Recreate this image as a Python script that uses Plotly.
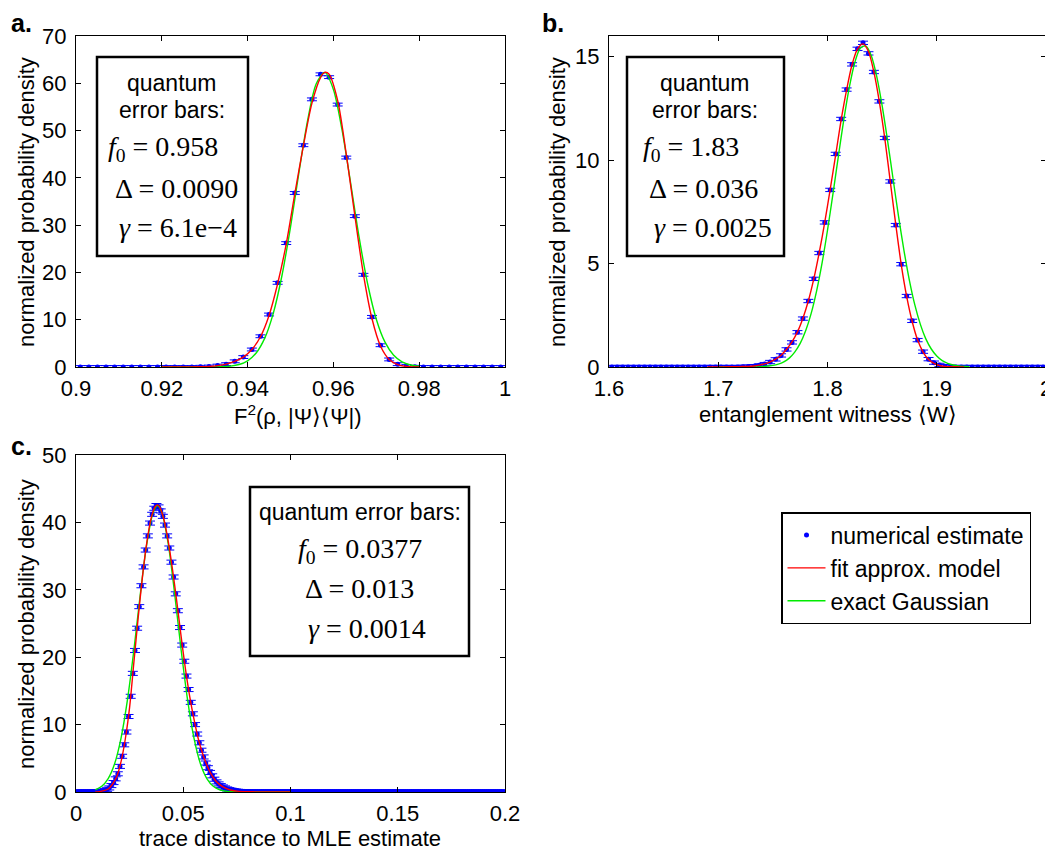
import numpy as np
import plotly.graph_objects as go

# The page body adds an 8px margin, so the figure is drawn 8px smaller and all
# reference-pixel positions are shifted by that offset.
PAGE_W, PAGE_H, OFF = 1053, 850, 8
W, H = PAGE_W - OFF, PAGE_H - OFF

# ---------------- Panel a data ----------------
a_x_start, a_x_step = 0.901, 0.002
a_vals = [0, 0, 0, 0, 0, 0, 0, 0, 0, 0, 0, 0, 0, 0,
          0.05, 0.1, 0.3, 0.6, 1.2, 2.1, 3.7, 6.5, 11.1, 17.8, 26.2, 36.8, 46.9,
          56.6, 61.9, 61.3, 55.5, 44.3, 31.9, 19.5, 10.6, 4.6, 1.6, 0.6, 0.2, 0.05,
          0, 0, 0, 0, 0, 0, 0, 0, 0, 0]
a_err = 0.3
a_red_x = [0.920, 0.925, 0.929, 0.931, 0.933, 0.935, 0.937, 0.939, 0.941, 0.943,
           0.945, 0.947, 0.949, 0.951, 0.953, 0.955, 0.957, 0.958, 0.959, 0.961,
           0.963, 0.965, 0.967, 0.969, 0.971, 0.973, 0.975, 0.977, 0.979, 0.980]
a_red_y = [0.0, 0.02, 0.06, 0.12, 0.3, 0.6, 1.2, 2.1, 3.7, 6.4,
           10.9, 17.6, 26.0, 36.6, 46.8, 55.8, 61.2, 62.3, 61.9, 56.3,
           45.0, 32.0, 19.6, 10.2, 4.4, 1.6, 0.5, 0.12, 0.02, 0.0]
a_green_x = [0.920, 0.926, 0.930, 0.934, 0.936, 0.938, 0.940, 0.942, 0.944, 0.946,
             0.948, 0.950, 0.952, 0.954, 0.956, 0.958, 0.960, 0.962, 0.964, 0.966,
             0.968, 0.970, 0.972, 0.974, 0.976, 0.978, 0.980]
a_green_y = [0.0, 0.0, 0.005, 0.06, 0.19, 0.52, 1.30, 2.96, 6.10, 11.4,
             19.3, 29.6, 41.3, 52.2, 59.9, 62.3, 58.7, 50.2, 39.0, 27.4,
             17.5, 10.1, 5.3, 2.53, 1.09, 0.43, 0.15]
a_xticks = [0.9, 0.92, 0.94, 0.96, 0.98, 1.0]
a_xticktext = ["0.9", "0.92", "0.94", "0.96", "0.98", "1"]
a_yticks = [0, 10, 20, 30, 40, 50, 60, 70]

# ---------------- Panel b data ----------------
b_x_start, b_x_step = 1.6025, 0.005
b_vals = [0, 0, 0, 0, 0, 0, 0, 0, 0, 0, 0, 0, 0, 0, 0, 0, 0, 0, 0, 0, 0, 0, 0, 0,
          0.01, 0.02, 0.04, 0.08, 0.14, 0.24, 0.37, 0.56, 0.85, 1.19, 1.68, 2.34,
          3.19, 4.26, 5.51, 6.99, 8.56, 10.30, 11.99, 13.41, 14.63, 15.38, 15.67,
          15.16, 14.26, 12.84, 11.07, 8.97, 6.86, 4.97, 3.43, 2.23, 1.30, 0.74,
          0.38, 0.21, 0.10, 0.04, 0.01,
          0, 0, 0, 0, 0, 0, 0, 0, 0, 0, 0, 0, 0, 0, 0, 0, 0]
b_err = 0.08
b_red_x = [1.690, 1.700, 1.710, 1.720, 1.7275, 1.7325, 1.7375, 1.7425, 1.7475, 1.7525,
           1.7575, 1.7625, 1.7675, 1.7725, 1.7775, 1.7825, 1.7875, 1.7925, 1.7975, 1.8025,
           1.8075, 1.8125, 1.8175, 1.8225, 1.8275, 1.8325, 1.8375, 1.8425, 1.8475, 1.8525,
           1.8575, 1.8625, 1.8675, 1.8725, 1.8775, 1.8825, 1.8875, 1.8925, 1.8975, 1.9025,
           1.9075, 1.915, 1.925]
b_red_y = [0.0, 0.005, 0.01, 0.02, 0.03, 0.05, 0.09, 0.15, 0.25, 0.38,
           0.57, 0.86, 1.22, 1.70, 2.36, 3.20, 4.27, 5.55, 7.00, 8.60,
           10.25, 11.95, 13.40, 14.62, 15.38, 15.62, 15.25, 14.25, 12.80, 11.02,
           8.95, 6.88, 4.95, 3.40, 2.20, 1.30, 0.72, 0.36, 0.17, 0.07,
           0.03, 0.01, 0.0]
b_green_x = [1.700, 1.720, 1.730, 1.740, 1.750, 1.755, 1.760, 1.765, 1.770, 1.775,
             1.780, 1.785, 1.790, 1.795, 1.800, 1.805, 1.810, 1.815, 1.820, 1.825,
             1.830, 1.835, 1.840, 1.845, 1.850, 1.855, 1.860, 1.865, 1.870, 1.875,
             1.880, 1.885, 1.890, 1.895, 1.900, 1.905, 1.910, 1.915, 1.920, 1.930]
b_green_y = [0.0, 0.0, 0.004, 0.02, 0.076, 0.14, 0.25, 0.43, 0.72, 1.14,
             1.75, 2.58, 3.67, 5.02, 6.61, 8.37, 10.20, 11.98, 13.53, 14.72,
             15.41, 15.52, 15.06, 14.06, 12.63, 10.93, 9.10, 7.29, 5.63, 4.18,
             2.99, 2.06, 1.36, 0.87, 0.53, 0.31, 0.18, 0.098, 0.05, 0.01]
b_xticks = [1.6, 1.7, 1.8, 1.9, 2.0]
b_xticktext = ["1.6", "1.7", "1.8", "1.9", "2"]
b_yticks = [0, 5, 10, 15]

# ---------------- Panel c data ----------------
c_x_start, c_x_step = 0.0005, 0.001
c_vals = [0, 0, 0, 0, 0, 0, 0, 0, 0, 0,
          0.05, 0.1, 0.15, 0.25, 0.4, 0.6, 0.95, 1.4, 1.95, 2.7,
          3.8, 5.3, 7.0, 8.9, 11.2, 14.2, 17.6, 21.0, 24.3, 27.5,
          30.6, 33.4, 35.9, 38.0, 39.9, 41.2, 42.1, 42.5, 42.3, 41.7,
          40.9, 39.6, 38.0, 36.2, 34.1, 31.9, 29.4, 26.9, 24.4, 21.8,
          19.4, 17.2, 15.2, 13.3, 11.6, 10.0, 8.6, 7.3, 6.2, 5.2,
          4.3, 3.6, 2.9, 2.4, 1.9, 1.5, 1.2, 0.95, 0.75, 0.6,
          0.45, 0.35, 0.27, 0.2, 0.15, 0.11, 0.08, 0.06, 0.04, 0.03,
          0, 0, 0, 0, 0, 0, 0, 0, 0, 0, 0, 0, 0, 0, 0, 0, 0, 0, 0, 0,
          0, 0, 0, 0, 0, 0, 0, 0, 0, 0, 0, 0, 0, 0, 0, 0, 0, 0, 0, 0,
          0, 0, 0, 0, 0, 0, 0, 0, 0, 0, 0, 0, 0, 0, 0, 0, 0, 0, 0, 0,
          0, 0, 0, 0, 0, 0, 0, 0, 0, 0, 0, 0, 0, 0, 0, 0, 0, 0, 0, 0,
          0, 0, 0, 0, 0, 0, 0, 0, 0, 0, 0, 0, 0, 0, 0, 0, 0, 0, 0, 0,
          0, 0, 0, 0, 0, 0, 0, 0, 0, 0, 0, 0, 0, 0, 0, 0, 0, 0, 0, 0]
c_err = 0.3
c_red_x = [0.009, 0.011, 0.013, 0.015, 0.017, 0.019, 0.021, 0.023, 0.025, 0.027,
           0.029, 0.031, 0.033, 0.035, 0.037, 0.038, 0.039, 0.041, 0.043, 0.045,
           0.047, 0.049, 0.051, 0.053, 0.055, 0.057, 0.059, 0.061, 0.063, 0.065,
           0.067, 0.069, 0.072, 0.076, 0.082, 0.090, 0.100]
c_red_y = [0.0, 0.06, 0.2, 0.45, 1.15, 2.3, 4.5, 7.9, 12.6, 19.3,
           25.9, 32.0, 37.0, 40.6, 42.4, 42.6, 42.3, 40.4, 37.2, 33.0,
           28.2, 23.1, 18.3, 14.2, 10.8, 7.9, 5.7, 4.0, 2.65, 1.7,
           1.1, 0.68, 0.3, 0.1, 0.03, 0.01, 0.0]
c_green_x = [0.009, 0.012, 0.015, 0.018, 0.021, 0.024, 0.027, 0.030, 0.033, 0.036,
             0.038, 0.040, 0.043, 0.046, 0.049, 0.052, 0.055, 0.058, 0.061, 0.064,
             0.067, 0.070, 0.075, 0.080, 0.100]
c_green_y = [0.33, 0.85, 2.0, 4.2, 8.0, 13.7, 21.1, 29.4, 36.8, 41.5,
             42.5, 41.5, 36.8, 29.4, 21.1, 13.7, 8.0, 4.2, 2.0, 0.85,
             0.33, 0.11, 0.016, 0.0, 0.0]
c_xticks = [0, 0.05, 0.1, 0.15, 0.2]
c_xticktext = ["0", "0.05", "0.1", "0.15", "0.2"]
c_yticks = [0, 10, 20, 30, 40, 50]

legend_names = ["numerical estimate", "fit approx. model", "exact Gaussian"]

BLUE = "rgb(0,0,255)"
RED = "rgb(255,0,0)"
GREEN = "rgb(0,235,0)"
SANS = "Liberation Sans, Arial, Helvetica, sans-serif"
SERIF = "Liberation Serif, Times New Roman, serif"

fig = go.Figure()

panels = [
    ("x", "y", a_x_start, a_x_step, a_vals, a_err, a_red_x, a_red_y, a_green_x, a_green_y),
    ("x2", "y2", b_x_start, b_x_step, b_vals, b_err, b_red_x, b_red_y, b_green_x, b_green_y),
    ("x3", "y3", c_x_start, c_x_step, c_vals, c_err, c_red_x, c_red_y, c_green_x, c_green_y),
]

for i, (xa, ya, xs, st, vals, err, rx, ry, gx, gy) in enumerate(panels):
    xs_arr = xs + st * np.arange(len(vals))
    show = (i == 0)
    fig.add_trace(go.Scatter(
        x=xs_arr, y=vals, xaxis=xa, yaxis=ya, mode="markers",
        marker=dict(color=BLUE, size=5),
        error_y=dict(type="constant", value=err, color=BLUE, thickness=1, width=5),
        name=legend_names[0], showlegend=show, legendrank=1))
    fig.add_trace(go.Scatter(
        x=gx, y=gy, xaxis=xa, yaxis=ya, mode="lines",
        line=dict(color=GREEN, width=1.4, shape="spline", smoothing=0.8),
        name=legend_names[2], showlegend=show, legendrank=3))
    fig.add_trace(go.Scatter(
        x=rx, y=ry, xaxis=xa, yaxis=ya, mode="lines",
        line=dict(color=RED, width=1.4, shape="spline", smoothing=0.8),
        name=legend_names[1], showlegend=show, legendrank=2))


def px_x(p):
    return (p - OFF) / W


def px_y(p):
    return 1 - (p - OFF) / H


axis_common = dict(showline=True, linecolor="black", linewidth=1, mirror="ticks",
                   ticks="inside", ticklen=5, tickcolor="black", tickwidth=1,
                   showgrid=False, zeroline=False, automargin=False,
                   tickfont=dict(family=SANS, size=22, color="black"))

fig.update_layout(
    template="none",
    width=W, height=H, margin=dict(l=0, r=0, t=0, b=0, pad=0),
    paper_bgcolor="white", plot_bgcolor="white",
    xaxis=dict(domain=[px_x(76), px_x(505)], range=[0.9, 1.0], anchor="y",
               tickvals=a_xticks, ticktext=a_xticktext, ticklabelstandoff=2, **axis_common),
    yaxis=dict(domain=[px_y(367), px_y(36)], range=[0, 70], anchor="x",
               tickvals=a_yticks, ticklabelstandoff=4, **axis_common),
    xaxis2=dict(domain=[px_x(609), px_x(1046)], range=[1.6, 2.0], anchor="y2",
                tickvals=b_xticks, ticktext=b_xticktext, ticklabelstandoff=2, **axis_common),
    yaxis2=dict(domain=[px_y(367), px_y(36)], range=[0, 16], anchor="x2",
                tickvals=b_yticks, ticklabelstandoff=4, **axis_common),
    xaxis3=dict(domain=[px_x(76), px_x(505)], range=[0, 0.2], anchor="y3",
                tickvals=c_xticks, ticktext=c_xticktext, ticklabelstandoff=2, **axis_common),
    yaxis3=dict(domain=[px_y(792), px_y(455)], range=[0, 50], anchor="x3",
                tickvals=c_yticks, ticklabelstandoff=4, **axis_common),
    showlegend=True,
    legend=dict(x=px_x(781), y=px_y(512), xanchor="left", yanchor="top",
                bordercolor="black", borderwidth=1.5, bgcolor="white",
                font=dict(family=SANS, size=23, color="black"),
                tracegroupgap=0, itemwidth=38),
)

shapes = []
annotations = []


def box(x0, y0, x1, y1):
    shapes.append(dict(type="rect", xref="paper", yref="paper",
                       x0=px_x(x0), x1=px_x(x1), y0=px_y(y1), y1=px_y(y0),
                       line=dict(color="black", width=2.5), fillcolor="white",
                       layer="above"))


def text(x, y, s, size=22, family=SANS, xanchor="center", textangle=0, yanchor="middle"):
    annotations.append(dict(xref="paper", yref="paper", x=px_x(x), y=px_y(y),
                            text=s, showarrow=False, xanchor=xanchor, yanchor=yanchor,
                            textangle=textangle, borderpad=0,
                            font=dict(family=family, size=size, color="black")))


# Panel a box
box(97, 57, 248, 256)
text(172, 83, "quantum", size=23)
text(172, 110, "error bars:", size=23)
text(107, 148, "<i>f</i><sub>0</sub> = 0.958", size=28, family=SERIF, xanchor="left")
text(114, 188, "Δ = 0.0090", size=28, family=SERIF, xanchor="left")
text(118, 228, "<i>γ</i> = 6.1e−4", size=28, family=SERIF, xanchor="left")

# Panel b box
box(627, 57, 784, 256)
text(705, 83, "quantum", size=23)
text(705, 110, "error bars:", size=23)
text(642, 148, "<i>f</i><sub>0</sub> = 1.83", size=28, family=SERIF, xanchor="left")
text(648, 188, "Δ = 0.036", size=28, family=SERIF, xanchor="left")
text(653, 228, "<i>γ</i> = 0.0025", size=28, family=SERIF, xanchor="left")

# Panel c box
box(250, 487, 469, 656)
text(360, 512, "quantum error bars:", size=23)
text(297, 550, "<i>f</i><sub>0</sub> = 0.0377", size=28, family=SERIF, xanchor="left")
text(304, 588, "Δ = 0.013", size=28, family=SERIF, xanchor="left")
text(307, 628, "<i>γ</i> = 0.0014", size=28, family=SERIF, xanchor="left")

# axis titles
text(298, 415, "F<sup>2</sup>(ρ, |Ψ⟩⟨Ψ|)")
text(828, 414, "entanglement witness ⟨W⟩")
text(290, 838, "trace distance to MLE estimate")
text(26, 202, "normalized probability density", textangle=-90)
text(557, 202, "normalized probability density", textangle=-90)
text(26, 624, "normalized probability density", textangle=-90)

# panel labels
text(21, 8, "<b>a.</b>", size=25, yanchor="top")
text(553, 8, "<b>b.</b>", size=25, yanchor="top")
text(21, 431, "<b>c.</b>", size=25, yanchor="top")

fig.update_layout(shapes=shapes, annotations=annotations)

fig.write_html("out.html")
